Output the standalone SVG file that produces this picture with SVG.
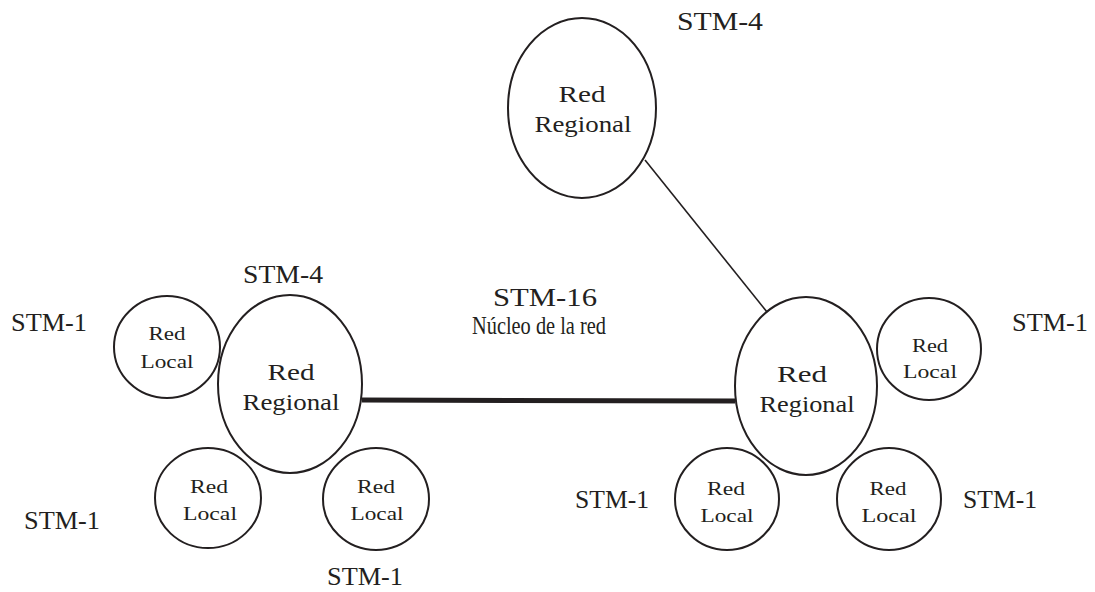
<svg xmlns="http://www.w3.org/2000/svg" width="1095" height="592" viewBox="0 0 1095 592">
  <style>
    .node { fill: none; stroke: #231f20; stroke-width: 2; }
    .t { font-family: "Liberation Serif", "Times New Roman", serif; fill: #231f20; text-anchor: middle; }
    .reg { font-size: 24px; }
    .loc { font-size: 19px; }
    .lbl { font-family: "Liberation Serif", "Times New Roman", serif; fill: #231f20; font-size: 25px; }
    .link { stroke: #231f20; fill: none; }
  </style>
  <rect width="1095" height="592" fill="#ffffff"/>

  <!-- connectors -->
  <g id="connectors">
    <line class="link" x1="645" y1="160" x2="767" y2="312" stroke-width="1.6"/>
    <line class="link" x1="362" y1="400" x2="735" y2="401" stroke-width="5"/>
  </g>

  <!-- regional networks -->
  <g id="regional-top">
    <ellipse class="node" cx="582" cy="108" rx="74" ry="90"/>
    <text class="t reg" x="582" y="102" textLength="47" lengthAdjust="spacingAndGlyphs">Red</text>
    <text class="t reg" x="583" y="132" textLength="97" lengthAdjust="spacingAndGlyphs">Regional</text>
  </g>
  <g id="regional-left">
    <ellipse class="node" cx="290" cy="384" rx="72" ry="89"/>
    <text class="t reg" x="291" y="380" textLength="47" lengthAdjust="spacingAndGlyphs">Red</text>
    <text class="t reg" x="291" y="410" textLength="97" lengthAdjust="spacingAndGlyphs">Regional</text>
  </g>
  <g id="regional-right">
    <ellipse class="node" cx="806" cy="386" rx="71" ry="89"/>
    <text class="t reg" x="802" y="382" textLength="50" lengthAdjust="spacingAndGlyphs">Red</text>
    <text class="t reg" x="807" y="412" textLength="95" lengthAdjust="spacingAndGlyphs">Regional</text>
  </g>

  <!-- local networks -->
  <g id="local-left-top">
    <ellipse class="node" cx="167" cy="347" rx="53" ry="51"/>
    <text class="t loc" x="167" y="340" textLength="37" lengthAdjust="spacingAndGlyphs">Red</text>
    <text class="t loc" x="167" y="368" textLength="53" lengthAdjust="spacingAndGlyphs">Local</text>
  </g>
  <g id="local-left-bottom">
    <ellipse class="node" cx="208" cy="498" rx="53" ry="50"/>
    <text class="t loc" x="209" y="493" textLength="38" lengthAdjust="spacingAndGlyphs">Red</text>
    <text class="t loc" x="210" y="520" textLength="54" lengthAdjust="spacingAndGlyphs">Local</text>
  </g>
  <g id="local-left-right">
    <ellipse class="node" cx="376" cy="499" rx="53" ry="51"/>
    <text class="t loc" x="376" y="493" textLength="38" lengthAdjust="spacingAndGlyphs">Red</text>
    <text class="t loc" x="377" y="520" textLength="53" lengthAdjust="spacingAndGlyphs">Local</text>
  </g>
  <g id="local-right-top">
    <ellipse class="node" cx="929" cy="349" rx="52" ry="51"/>
    <text class="t loc" x="930" y="352" textLength="36" lengthAdjust="spacingAndGlyphs">Red</text>
    <text class="t loc" x="930" y="378" textLength="54" lengthAdjust="spacingAndGlyphs">Local</text>
  </g>
  <g id="local-right-left">
    <ellipse class="node" cx="727" cy="499" rx="52" ry="51"/>
    <text class="t loc" x="726" y="495" textLength="38" lengthAdjust="spacingAndGlyphs">Red</text>
    <text class="t loc" x="727" y="522" textLength="53" lengthAdjust="spacingAndGlyphs">Local</text>
  </g>
  <g id="local-right-right">
    <ellipse class="node" cx="889" cy="499" rx="52" ry="51"/>
    <text class="t loc" x="888" y="495" textLength="37" lengthAdjust="spacingAndGlyphs">Red</text>
    <text class="t loc" x="889" y="522" textLength="55" lengthAdjust="spacingAndGlyphs">Local</text>
  </g>

  <!-- link rate labels -->
  <g id="labels">
    <text class="lbl" x="677" y="30" textLength="86" lengthAdjust="spacingAndGlyphs">STM-4</text>
    <text class="lbl" x="243" y="283" textLength="80" lengthAdjust="spacingAndGlyphs">STM-4</text>
    <text class="lbl" x="493" y="306" textLength="104" lengthAdjust="spacingAndGlyphs">STM-16</text>
    <text class="lbl" x="472" y="334" font-size="18" textLength="134" lengthAdjust="spacingAndGlyphs">Núcleo de la red</text>
    <text class="lbl" x="11" y="331" textLength="76" lengthAdjust="spacingAndGlyphs">STM-1</text>
    <text class="lbl" x="1012" y="331" textLength="76" lengthAdjust="spacingAndGlyphs">STM-1</text>
    <text class="lbl" x="24" y="529" textLength="76" lengthAdjust="spacingAndGlyphs">STM-1</text>
    <text class="lbl" x="327" y="585" textLength="76" lengthAdjust="spacingAndGlyphs">STM-1</text>
    <text class="lbl" x="575" y="508" textLength="74" lengthAdjust="spacingAndGlyphs">STM-1</text>
    <text class="lbl" x="963" y="508" textLength="74" lengthAdjust="spacingAndGlyphs">STM-1</text>
  </g>
</svg>
